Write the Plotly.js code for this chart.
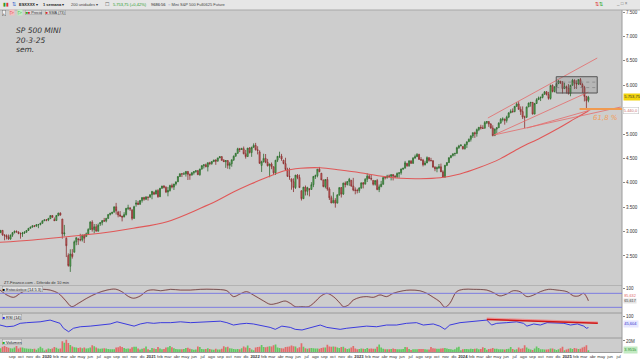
<!DOCTYPE html>
<html><head><meta charset="utf-8">
<script src="https://cdn.plot.ly/plotly-3.0.1.min.js"></script>
<style>html,body{margin:0;padding:0;background:#fff;}#chart{width:640px;height:360px;}</style>
</head><body><div id="chart"></div>
<script>
// ---- weekly candles [open, high, low, close], weeks starting Monday ----
const firstWeek = '2019-07-22';
const ohlc2019 = [[2977,3028,2975,3025],[3025,3029,2914,2932],[2932,2945,2822,2918],[2918,2943,2840,2889],[2889,2940,2834,2847],[2847,2940,2836,2926],[2926,2985,2892,2979],[2979,3021,2963,3007],[3007,3022,2985,2992],[2992,3003,2946,2961],[2961,2983,2855,2952],[2952,2993,2892,2970],[2970,3008,2952,2986],[2986,3027,2981,3023],[3023,3068,3014,3067],[3067,3098,3066,3093],[3093,3121,3081,3120],[3120,3127,3091,3110],[3110,3154,3107,3141],[3141,3150,3070,3146],[3146,3182,3127,3169],[3169,3226,3167,3221],[3221,3248,3220,3240],[3240,3258,3212,3235]];
const ohlc2020 = [[3235,3282,3214,3265],[3265,3330,3263,3330],[3330,3338,3280,3295],[3247,3290,3214,3226],[3226,3341,3223,3328],[3328,3385,3316,3380],[3380,3394,3328,3338],[3257,3260,2855,2954],[2954,3137,2902,2972],[2863,2882,2478,2711],[2508,2553,2280,2305],[2290,2637,2174,2541],[2541,2641,2447,2489],[2578,2818,2571,2790],[2790,2880,2721,2875],[2845,2871,2727,2837],[2837,2955,2801,2831],[2831,2934,2797,2930],[2930,2945,2766,2864],[2900,2980,2900,2955],[2955,3068,2952,3044],[3044,3212,3039,3194],[3194,3233,2999,3041],[3041,3155,2966,3098],[3098,3155,3004,3009],[3009,3165,3001,3130],[3155,3186,3115,3185],[3185,3233,3128,3225],[3225,3280,3200,3216],[3216,3280,3190,3271],[3271,3352,3260,3351],[3351,3387,3330,3373],[3373,3399,3355,3397],[3397,3510,3397,3508],[3508,3588,3350,3427],[3400,3425,3293,3341],[3341,3420,3300,3319],[3319,3320,3209,3298],[3298,3397,3297,3348],[3348,3482,3330,3477],[3477,3550,3441,3484],[3484,3502,3424,3465],[3440,3464,3233,3270],[3270,3529,3268,3510],[3560,3646,3511,3585],[3585,3628,3543,3558],[3558,3644,3556,3638],[3638,3699,3595,3699],[3699,3712,3633,3663],[3663,3726,3645,3709],[3709,3711,3636,3703],[3703,3760,3702,3756]];
const ohlc2021 = [[3756,3827,3663,3825],[3803,3823,3749,3768],[3768,3861,3766,3841],[3841,3870,3694,3714],[3714,3894,3712,3887],[3887,3937,3879,3934],[3934,3950,3884,3907],[3907,3928,3789,3811],[3811,3914,3723,3842],[3842,3960,3819,3943],[3943,3983,3885,3913],[3913,3978,3853,3975],[3975,4020,3943,4020],[4020,4130,4018,4129],[4129,4191,4118,4185],[4185,4194,4118,4180],[4180,4219,4168,4181],[4181,4238,4128,4233],[4233,4237,4057,4174],[4174,4187,4062,4156],[4156,4220,4156,4204],[4204,4234,4167,4230],[4230,4255,4206,4247],[4247,4262,4164,4166],[4166,4287,4144,4281],[4281,4355,4271,4352],[4352,4372,4293,4370],[4370,4393,4321,4327],[4327,4415,4233,4412],[4412,4430,4360,4395],[4395,4441,4368,4437],[4437,4469,4424,4468],[4468,4480,4368,4442],[4442,4511,4440,4509],[4509,4545,4508,4535],[4535,4549,4459,4459],[4459,4486,4427,4433],[4433,4465,4306,4455],[4455,4466,4288,4357],[4357,4429,4278,4391],[4391,4475,4329,4471],[4471,4559,4447,4545],[4545,4608,4537,4605],[4605,4718,4595,4697],[4697,4714,4630,4683],[4683,4718,4672,4698],[4698,4743,4585,4595],[4595,4673,4495,4538],[4538,4713,4532,4712],[4712,4731,4600,4620],[4620,4740,4532,4726],[4726,4808,4720,4766]];
const ohlc2022 = [[4766,4818,4662,4677],[4677,4749,4582,4663],[4632,4665,4395,4398],[4356,4453,4222,4432],[4432,4595,4414,4500],[4500,4590,4401,4419],[4419,4490,4335,4349],[4349,4390,4114,4385],[4385,4416,4279,4329],[4329,4331,4157,4204],[4204,4465,4161,4463],[4463,4546,4424,4543],[4543,4637,4507,4546],[4546,4593,4450,4488],[4462,4471,4381,4393],[4393,4513,4268,4272],[4272,4308,4122,4132],[4132,4307,4062,4123],[4081,4082,3858,4023],[4023,4091,3810,3901],[3901,4160,3875,4158],[4158,4178,4074,4109],[4109,4168,3900,3901],[3838,3838,3637,3675],[3674,3913,3674,3912],[3912,3945,3740,3825],[3825,3918,3743,3899],[3880,3880,3721,3863],[3863,4013,3863,3962],[3962,4140,3911,4130],[4130,4167,4079,4145],[4145,4280,4112,4280],[4280,4325,4218,4228],[4195,4203,4057,4058],[4058,4062,3907,3924],[3924,4077,3886,4067],[4067,4119,3838,3873],[3873,3908,3647,3693],[3693,3736,3584,3586],[3586,3807,3585,3640],[3640,3685,3491,3583],[3583,3765,3582,3752],[3752,3905,3735,3901],[3901,3911,3698,3771],[3771,4001,3751,3993],[3993,4028,3906,3965],[3965,4034,3945,4026],[4026,4100,3938,4072],[4052,4052,3918,3934],[3934,4101,3828,3852],[3852,3906,3764,3845],[3845,3878,3783,3840]];
const ohlc2023 = [[3840,3906,3794,3895],[3895,4003,3877,3999],[3999,4015,3885,3973],[3973,4095,3966,4071],[4071,4195,4015,4136],[4136,4176,4079,4090],[4090,4160,4048,4079],[4050,4050,3944,3970],[3970,4048,3943,4046],[4046,4079,3848,3862],[3862,3965,3809,3917],[3917,4040,3916,3971],[3971,4110,3960,4109],[4109,4133,4069,4105],[4105,4164,4086,4138],[4138,4169,4113,4133],[4133,4170,4049,4169],[4169,4172,4048,4136],[4136,4154,4098,4124],[4124,4212,4099,4192],[4192,4212,4103,4205],[4205,4290,4166,4282],[4282,4300,4261,4299],[4299,4448,4298,4410],[4400,4400,4328,4348],[4348,4458,4328,4450],[4450,4456,4385,4399],[4399,4527,4389,4505],[4505,4578,4497,4536],[4536,4607,4527,4582],[4582,4594,4474,4478],[4478,4527,4457,4464],[4464,4490,4335,4370],[4370,4452,4356,4406],[4406,4541,4404,4516],[4516,4516,4430,4457],[4457,4511,4447,4450],[4450,4467,4317,4320],[4320,4338,4238,4288],[4288,4333,4216,4308],[4308,4385,4284,4327],[4327,4394,4223,4224],[4224,4256,4104,4117],[4117,4366,4103,4358],[4358,4418,4342,4415],[4415,4521,4410,4514],[4514,4560,4506,4559],[4559,4596,4537,4595],[4595,4609,4546,4604],[4604,4738,4593,4719],[4719,4778,4695,4755],[4755,4793,4751,4770]];
const ohlc2024 = [[4745,4754,4682,4697],[4697,4802,4682,4784],[4784,4842,4714,4840],[4840,4907,4839,4891],[4891,4975,4845,4959],[4959,5030,4918,5027],[5027,5048,4920,5006],[5006,5111,4946,5089],[5089,5141,5057,5137],[5137,5189,5092,5124],[5124,5179,5104,5117],[5117,5265,5117,5234],[5234,5264,5203,5254],[5254,5263,5146,5204],[5204,5222,5108,5123],[5123,5178,4953,4967],[4967,5111,4966,5100],[5100,5140,5011,5128],[5128,5240,5127,5223],[5223,5325,5212,5303],[5303,5342,5257,5305],[5305,5315,5191,5278],[5278,5375,5234,5347],[5347,5447,5325,5431],[5431,5505,5431,5465],[5465,5524,5433,5460],[5460,5570,5445,5567],[5567,5655,5558,5615],[5615,5670,5497,5505],[5505,5565,5390,5459],[5459,5566,5306,5346],[5346,5375,5119,5344],[5344,5560,5330,5554],[5554,5643,5553,5634],[5634,5651,5560,5648],[5648,5651,5402,5408],[5408,5636,5406,5626],[5626,5733,5615,5703],[5703,5767,5703,5738],[5738,5765,5675,5751],[5751,5822,5730,5815],[5815,5878,5806,5864],[5864,5879,5790,5808],[5808,5863,5703,5729],[5729,6012,5706,5995],[5995,6017,5853,5870],[5870,5972,5853,5969],[5969,6044,5963,6032],[6032,6099,6025,6090],[6083,6085,6026,6051],[6051,6085,5832,5930],[5930,6049,5929,5971],[5971,5993,5829,5942]];
const ohlc2025 = [[5942,6022,5809,5827],[5827,6007,5773,5997],[5997,6129,5997,6101],[6101,6120,5923,6041],[6041,6101,5924,6026],[6026,6127,6003,6115],[6115,6147,6008,6013],[6013,6043,5838,5955],[5955,5986,5667,5770],[5770,5781,5510,5680],[5690,5782,5650,5753]];

// ---- weekly volume (millions of contracts) ----
const vol2019 = [7.2,9.8,11.5,9.6,8.1,7.4,6.9,8.8,11.2,7.0,8.9,8.5,7.2,6.8,6.3,6.6,5.9,6.4,4.8,7.6,10.1,7.5,3.6,5.0];
const vol2020 = [7.0,6.2,6.8,9.5,8.4,6.5,7.0,19.5,17.0,22.0,16.5,13.0,10.5,9.0,8.5,8.0,8.6,7.5,8.8,7.0,7.2,8.5,12.5,11.0,8.8,6.8,6.5,7.0,7.2,7.0,6.0,5.8,5.5,5.6,8.5,9.0,11.0,9.5,7.8,6.5,6.8,6.4,9.0,9.8,10.2,7.0,5.2,6.5,7.2,10.5,5.5,4.5];
const vol2021 = [8.0,7.0,6.0,9.5,7.0,5.5,6.0,8.5,9.0,11.5,9.0,7.5,6.0,5.8,5.5,5.6,6.0,7.8,8.2,6.5,5.8,4.8,5.0,10.5,9.5,6.0,5.6,6.0,7.5,6.2,5.2,4.9,6.5,5.0,5.0,6.5,11.0,9.0,9.8,7.5,7.0,6.0,5.5,6.0,5.5,7.2,10.5,8.8,12.0,8.0,5.0,4.0];
const vol2022 = [8.5,9.5,10.0,13.0,9.5,9.0,9.8,11.0,10.5,12.5,14.0,8.5,7.8,7.5,7.0,9.5,10.0,10.5,12.0,11.0,10.5,7.5,9.0,16.0,10.0,7.5,6.5,7.5,7.8,7.5,6.8,7.0,6.5,7.8,8.5,8.5,13.5,10.5,10.0,10.5,10.0,8.5,8.0,9.5,10.0,7.5,6.0,7.0,8.5,11.5,7.0,5.5];
const vol2023 = [6.0,7.0,6.5,6.0,8.0,6.5,7.0,6.5,6.5,10.0,14.0,8.5,6.5,5.5,5.5,5.5,6.0,6.8,6.0,5.8,5.5,5.8,6.0,9.5,9.0,6.0,4.5,5.5,5.5,5.5,6.0,6.0,6.2,5.8,5.0,5.0,9.5,7.5,6.8,6.5,6.5,7.0,7.5,7.8,6.8,6.0,5.5,4.8,5.8,8.5,10.0,4.0];
const vol2024 = [5.5,6.0,6.2,5.8,6.5,6.0,6.5,6.8,5.8,6.2,9.0,8.0,4.8,6.0,6.5,7.8,6.5,6.5,5.5,5.5,5.8,5.2,6.0,6.5,9.5,6.0,4.8,5.5,8.5,6.5,7.5,12.5,8.5,6.5,5.0,4.5,7.0,10.5,8.0,5.8,5.5,5.0,5.2,5.5,7.0,6.8,5.8,4.2,5.5,7.5,10.0,4.0,5.0];
const vol2025 = [6.5,7.5,6.0,8.0,7.0,6.0,6.5,8.5,10.0,12.5,3.951];

// ---- SMA (73) ----
const smaDates = ['2019-07-20','2019-11-13','2020-03-11','2020-07-06','2020-10-30','2021-02-26','2021-06-23','2021-08-20','2021-10-17','2021-12-15','2022-02-12','2022-04-11','2022-06-09','2022-08-18','2022-10-27','2023-01-05','2023-03-16','2023-05-26','2023-08-04','2023-10-13','2023-12-22','2024-03-01','2024-05-11','2024-07-20','2024-09-29','2024-12-08','2025-01-30','2025-03-17'];
const smaValues = [2781,2828,2895,2965,3068,3203,3477,3630,3810,3970,4112,4240,4297,4309,4262,4207,4139,4092,4084,4104,4180,4317,4490,4720,4920,5140,5320,5470];

// ---- Stochastic (14,5,3) ----
const stochDates = ['2019-07-20','2019-08-13','2019-09-06','2019-09-29','2019-10-22','2019-11-14','2019-12-19','2020-01-12','2020-02-10','2020-03-05','2020-03-28','2020-04-20','2020-05-20','2020-06-24','2020-07-30','2020-08-28','2020-09-20','2020-10-14','2020-11-01','2020-11-24','2020-12-18','2021-01-10','2021-02-03','2021-03-10','2021-04-14','2021-05-19','2021-06-23','2021-08-08','2021-09-24','2021-10-17','2021-11-09','2021-12-02','2021-12-26','2022-01-30','2022-02-23','2022-03-18','2022-04-17','2022-05-05','2022-05-22','2022-06-15','2022-07-08','2022-07-31','2022-08-18','2022-09-10','2022-10-03','2022-10-27','2022-11-07','2022-11-25','2022-12-12','2023-01-05','2023-01-28','2023-02-21','2023-03-16','2023-04-08','2023-05-01','2023-06-05','2023-06-29','2023-08-03','2023-08-27','2023-09-19','2023-10-12','2023-10-30','2023-11-16','2023-12-10','2024-01-03','2024-02-07','2024-03-25','2024-04-17','2024-05-10','2024-06-03','2024-06-26','2024-07-20','2024-08-13','2024-09-06','2024-09-29','2024-10-28','2024-11-27','2025-01-01','2025-01-24','2025-02-11','2025-02-28','2025-03-10','2025-03-17'];
const stochValues = [94,73,63,80,94,97,97,94,80,51,23,37,59,80,94,98,87,66,59,69,91,95,91,97,94,94,97,97,91,66,77,87,73,48,33,37,47,37,23,23,23,44,66,80,66,37,23,30,51,63,66,63,73,66,80,91,94,91,80,63,44,20,37,87,97,97,94,83,69,77,91,87,66,73,87,97,94,87,69,69,80,66,48];

// ---- RSI (14) ----
const rsiDates = ['2019-07-20','2019-08-13','2019-09-06','2019-09-29','2019-10-22','2019-11-14','2019-12-08','2020-01-12','2020-01-30','2020-02-16','2020-02-28','2020-03-17','2020-04-03','2020-04-27','2020-06-01','2020-07-06','2020-08-10','2020-09-03','2020-09-27','2020-10-21','2020-11-02','2020-11-24','2020-12-18','2021-01-10','2021-02-03','2021-03-10','2021-04-14','2021-05-19','2021-06-23','2021-07-28','2021-09-01','2021-09-24','2021-10-17','2021-11-09','2021-12-02','2021-12-26','2022-01-30','2022-02-23','2022-03-13','2022-04-05','2022-05-05','2022-05-22','2022-06-15','2022-07-08','2022-07-31','2022-08-18','2022-09-10','2022-10-03','2022-10-27','2022-11-19','2022-12-24','2023-01-28','2023-03-04','2023-04-08','2023-05-13','2023-06-17','2023-07-22','2023-08-15','2023-09-19','2023-10-12','2023-10-30','2023-11-16','2023-12-22','2024-01-26','2024-03-01','2024-03-25','2024-04-11','2024-04-29','2024-06-03','2024-07-08','2024-08-01','2024-08-13','2024-09-06','2024-09-29','2024-10-23','2024-11-27','2024-12-21','2025-01-13','2025-02-06','2025-03-01','2025-03-10','2025-03-17'];
const rsiValues = [58,50,53,66,69,71,73,81,73,66,43,27,43,50,53,58,63,73,66,58,53,63,69,66,69,69,73,69,71,73,76,69,58,63,66,63,53,47,38,53,47,38,35,43,50,58,47,43,38,43,47,53,50,58,58,66,69,58,63,53,38,58,69,73,78,81,58,66,69,73,66,53,63,58,69,69,66,58,63,53,43,46];

// ---- drawings ----
const channelLines = [ // [date0, price0, date1, price1]
  ['2024-03-29',5328,'2025-04-17',6557],
  ['2024-04-19',4979,'2025-03-17',5860],
  ['2024-04-19',4979,'2025-07-09',5553],
  ['2024-08-14',5123,'2025-03-24',5491]
];
const rangeBox = ['2024-11-24',6174,'2025-04-17',5840];
const fibLine = ['2025-02-14',5512];
const rsiTrend = ['2024-03-25',84,'2025-04-19',66];
const stochLevels = [80,20];

const priceTicks = [2500,3000,3500,4000,4500,5000,6000,6500,7000,7500];
const priceTickText = ['2.500','3.000','3.500','4.000','4.500','5.000','6.000','6.500','7.000','7.500'];
const meses = ['ene','feb','mar','abr','may','jun','jul','ago','sep','oct','nov','dic'];

// ---------------- build ----------------
const weeks = [].concat(ohlc2019,ohlc2020,ohlc2021,ohlc2022,ohlc2023,ohlc2024,ohlc2025);
const volumes = [].concat(vol2019,vol2020,vol2021,vol2022,vol2023,vol2024,vol2025);
const t0 = Date.parse(firstWeek+'T00:00:00Z');
const dates = weeks.map((w,i)=>new Date(t0 + i*7*86400000).toISOString().slice(0,10));
const UP='#62c862', DOWN='#e36b6b';

const xStart='2019-07-20', xEnd='2025-07-13';
const tickvals=[], ticktext=[];
for(let y=2019;y<=2025;y++){for(let m=0;m<12;m++){
  const d=new Date(Date.UTC(y,m,1)).toISOString().slice(0,10);
  if(d<xStart||d>xEnd) continue;
  tickvals.push(d); ticktext.push(m===0?'<b>'+y+'</b>':meses[m]);
}}

const W=640,H=360;
const PX=x=>x/W, PY=y=>1-y/H;
const XR=622/W;

const traces=[
 {type:'candlestick',x:dates,open:weeks.map(w=>w[0]),high:weeks.map(w=>w[1]),low:weeks.map(w=>w[2]),close:weeks.map(w=>w[3]),
  xaxis:'x',yaxis:'y',whiskerwidth:0,
  increasing:{line:{color:'#2e6b2e',width:0.8},fillcolor:UP},
  decreasing:{line:{color:'#8a3030',width:0.8},fillcolor:DOWN},
  hoverinfo:'skip',showlegend:false},
 {type:'scatter',mode:'lines',x:smaDates,y:smaValues,xaxis:'x',yaxis:'y',line:{color:'#e05858',width:1.1,shape:'spline'},hoverinfo:'skip',showlegend:false},
 {type:'scatter',mode:'lines',x:stochDates,y:stochValues,xaxis:'x',yaxis:'y2',line:{color:'#e0a0a0',width:1.2,shape:'spline'},hoverinfo:'skip',showlegend:false},
 {type:'scatter',mode:'lines',x:stochDates,y:stochValues,xaxis:'x',yaxis:'y2',line:{color:'#4a3c3c',width:0.7,shape:'spline'},hoverinfo:'skip',showlegend:false},
 {type:'scatter',mode:'lines',x:rsiDates,y:rsiValues,xaxis:'x',yaxis:'y3',line:{color:'#2a2ae0',width:0.9},hoverinfo:'skip',showlegend:false},
 {type:'bar',x:dates,y:volumes,xaxis:'x',yaxis:'y4',marker:{color:weeks.map(w=>w[3]>=w[0]?UP:DOWN),line:{width:0}},hoverinfo:'skip',showlegend:false}
];

const shapes=[];
// toolbar
shapes.push({type:'rect',xref:'paper',yref:'paper',x0:0,x1:1,y0:PY(10),y1:1,fillcolor:'#e6e6e6',line:{width:0},layer:'above'});
shapes.push({type:'line',xref:'paper',yref:'paper',x0:0,x1:1,y0:PY(10),y1:PY(10),line:{color:'#a8a8a8',width:1},layer:'above'});
// panel separators
[285,313,338,352.5].forEach(y=>shapes.push({type:'line',xref:'paper',yref:'paper',x0:0,x1:XR,y0:PY(y),y1:PY(y),line:{color:'#9a9a9a',width:1}}));
shapes.push({type:'line',xref:'paper',yref:'paper',x0:XR,x1:XR,y0:PY(352.5),y1:PY(10),line:{color:'#9a9a9a',width:1}});
// channel lines
channelLines.forEach(l=>shapes.push({type:'line',xref:'x',yref:'y',x0:l[0],y0:l[1],x1:l[2],y1:l[3],line:{color:'#e46a6a',width:0.8}}));
// range box
shapes.push({type:'rect',xref:'x',yref:'y',x0:rangeBox[0],y0:rangeBox[1],x1:rangeBox[2],y1:rangeBox[3],fillcolor:'rgba(90,90,90,0.2)',line:{color:'#555',width:1}});
[1/3,2/3].forEach(f=>{const yy=rangeBox[3]+(rangeBox[1]-rangeBox[3])*f;
 shapes.push({type:'line',xref:'x',yref:'y',x0:rangeBox[0],x1:rangeBox[2],y0:yy,y1:yy,line:{color:'#777',width:0.6,dash:'dot'}});});
// fibonacci level
shapes.push({type:'line',xref:'x',yref:'y',x0:fibLine[0],x1:xEnd,y0:fibLine[1],y1:fibLine[1],line:{color:'#f09a50',width:2}});
// stochastic levels
stochLevels.forEach(v=>shapes.push({type:'line',xref:'paper',yref:'y2',x0:0,x1:XR,y0:v,y1:v,line:{color:'#7c7ce0',width:1}}));
// RSI trendline
shapes.push({type:'line',xref:'x',yref:'y3',x0:rsiTrend[0],y0:rsiTrend[1]+4,x1:rsiTrend[2],y1:rsiTrend[3]+4,line:{color:'rgba(240,130,130,0.8)',width:2}});
shapes.push({type:'line',xref:'x',yref:'y3',x0:rsiTrend[0],y0:rsiTrend[1],x1:rsiTrend[2],y1:rsiTrend[3],line:{color:'#d01818',width:1.6}});

const F='Liberation Sans', FD='DejaVu Sans';
function A(text,x,y,o){return Object.assign({text:text,xref:'paper',yref:'paper',x:PX(x),y:PY(y),xanchor:'left',yanchor:'middle',showarrow:false,font:{family:F,size:4,color:'#222'}},o||{});}
const annotations=[
 // toolbar
 A('<span style="color:#2a9a2a">▮</span><span style="color:#d33">▮</span>',1,4.5,{font:{family:F,size:5}}),
 A('⇅',10,4.5,{font:{family:F,size:4.5,color:'#36c'}}),
 A('<b>ESXXXX</b> ▾',17,4.5),
 A('<b>1 semana</b> ▾',41,4.5),
 A('200 unidades ▾',69,4.5,{font:{family:F,size:4,color:'#444'}}),
 A('☐',103,4.5,{font:{family:F,size:4.5,color:'#666'}}),
 A('5.753,75 (+0,42%)',111,4.5,{font:{family:F,size:4,color:'#1f9a1f'}}),
 A('9686:56',149,4.5),
 A('<span style="color:#6a8ad0">○</span> Mini S&amp;P 500 Full0625 Future',166,4.5,{font:{family:F,size:4,color:'#444'}}),
 A('<span style="color:#d33">⇅</span><span style="color:#2a2">⇅</span>',593,4.5,{font:{family:F,size:4.5}}),
 A('_ □ ×',614,4.0,{font:{family:F,size:4.5,color:'#777'}}),
 // legend row
 A('+',2,13,{bgcolor:'#f2f2f2',bordercolor:'#777',borderwidth:0.5,borderpad:0,font:{family:F,size:4,color:'#222'}}),
 A('▷',9,13,{bgcolor:'#f4c0c0',borderpad:0,font:{family:F,size:4.5,color:'#d22'}}),
 A('▷',17,13,{bgcolor:'#c4ecc4',borderpad:0,font:{family:F,size:4.5,color:'#1a1'}}),
 A('<span style="color:#2a2">■</span><span style="color:#d22">■</span> Precio',25,13,{bgcolor:'#dcdcdc',bordercolor:'#999',borderwidth:0.5,borderpad:0,font:{family:F,size:3.8,color:'#333'}}),
 A('<span style="color:#d22">■</span> SMA (73)',45,13,{bgcolor:'#dcdcdc',bordercolor:'#999',borderwidth:0.5,borderpad:0,font:{family:F,size:3.8,color:'#333'}}),
 // chart notes
 A('<i>SP 500 MINI</i>',14,30,{font:{family:FD,size:7.5,color:'#333'}}),
 A('<i>20-3-25</i>',14,40,{font:{family:FD,size:7.5,color:'#333'}}),
 A('<i>sem.</i>',14,50,{font:{family:FD,size:7.5,color:'#333'}}),
 A('<i>61,8 %</i>',620,118,{xanchor:'right',font:{family:FD,size:7,color:'#f0a060'}}),
 A('ZT-Finance.com - Diferido de 10 min',2,282,{font:{family:F,size:4,color:'#333'}}),
 // panel labels
 A('<span style="color:#000">■</span> Estocástico (14 5 3)',2,289,{bgcolor:'#e0e0e0',bordercolor:'#999',borderwidth:0.5,borderpad:0,font:{family:F,size:4,color:'#222'}}),
 A('<span style="color:#22d">■</span> RSI (14)',2,317,{bgcolor:'#e0e0e0',bordercolor:'#999',borderwidth:0.5,borderpad:0,font:{family:F,size:4,color:'#222'}}),
 A('<span style="color:#2a2">■</span> Volumen',2,342,{bgcolor:'#e0e0e0',bordercolor:'#999',borderwidth:0.5,borderpad:0,font:{family:F,size:4,color:'#222'}}),
 // right axis value labels
 A('5.753,75',622.5,96.7,{bgcolor:'#f2d40c',borderpad:0.3,font:{family:F,size:4,color:'#333'}}),
 A('5.440,0',623,110.5,{bgcolor:'#ffffff',bordercolor:'#bbb',borderwidth:0.5,borderpad:0.3,font:{family:F,size:4,color:'#c87070'}}),
 A('85,632',623,295.5,{bgcolor:'#ffffff',borderpad:0.2,font:{family:F,size:3.8,color:'#d66'}}),
 A('65,617',623,301,{bgcolor:'#e4e4e4',borderpad:0.2,font:{family:F,size:3.8,color:'#444'}}),
 A('45,604',623,324,{bgcolor:'#e6e6ff',borderpad:0.3,font:{family:F,size:4,color:'#33c'}}),
 A('3.951k',623,349.5,{bgcolor:'#c2eac2',borderpad:0.3,font:{family:F,size:4,color:'#2a8a2a'}})
];

const yCommon={side:'right',anchor:'x',showgrid:false,zeroline:false,ticks:'outside',ticklen:2,tickcolor:'#888',tickfont:{family:F,size:4.5,color:'#333'},showline:false,fixedrange:true};
const layout={
 width:W,height:H,margin:{l:0,r:0,t:0,b:0},
 paper_bgcolor:'#ffffff',plot_bgcolor:'#cdcdcd',showlegend:false,bargap:0.15,
 xaxis:{type:'date',domain:[0,XR],range:[xStart,xEnd],anchor:'y4',rangeslider:{visible:false},
   tickmode:'array',tickvals:tickvals,ticktext:ticktext,tickangle:0,ticks:'',showgrid:false,zeroline:false,
   tickfont:{family:F,size:4.2,color:'#333'},showline:false},
 yaxis:Object.assign({},yCommon,{domain:[PY(284),PY(10)],range:[1926,7541],tickmode:'array',tickvals:priceTicks,ticktext:priceTickText}),
 yaxis2:Object.assign({},yCommon,{domain:[PY(313),PY(285)],range:[-4.3,115.7],tickmode:'array',tickvals:[100],ticktext:['100']}),
 yaxis3:Object.assign({},yCommon,{domain:[PY(338),PY(313)],range:[-2.3,114],tickmode:'array',tickvals:[100],ticktext:['100']}),
 yaxis4:Object.assign({},yCommon,{domain:[PY(352.5),PY(338)],range:[0,25.2],tickmode:'array',tickvals:[20],ticktext:['20M']}),
 shapes:shapes,annotations:annotations
};
Plotly.newPlot('chart',traces,layout,{staticPlot:true,displayModeBar:false});
</script></body></html>
